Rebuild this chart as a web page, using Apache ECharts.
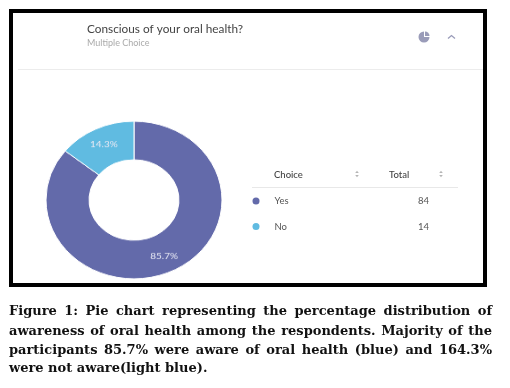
<!DOCTYPE html>
<html><head><meta charset="utf-8">
<style>
html,body{margin:0;padding:0;background:#fff;overflow:hidden}
#main{position:absolute;left:0;top:0;width:510px;height:388px}
#pie{position:absolute;left:34px;top:99.5px;width:200px;height:200px;transform:scale(1,0.895);transform-origin:50% 50%}
</style>
<script src="https://cdn.jsdelivr.net/npm/echarts@6/dist/echarts.min.js"></script>
</head><body>
<div id="main"></div><div id="pie"></div>
<script>
const questionTitle = 'Conscious of your oral health?';
const questionType = 'Multiple Choice';
const choices = ['Yes', 'No'];
const totals = [84, 14];
const sliceColors = ['#636aaa', '#60bbe1'];
const tableHeads = ['Choice', 'Total'];
const captionLines = [
  'Figure 1: Pie chart representing the percentage distribution of',
  'awareness of oral health among the respondents. Majority of the',
  'participants 85.7% were aware of oral health (blue) and 164.3%',
  'were not aware(light blue).'
];

const pie = echarts.init(document.getElementById('pie'), null, {renderer:'canvas'});
pie.setOption({
  animation:false,
  series:[{
    type:'pie', center:[100,100], radius:[45,88], startAngle:90, clockwise:true,
    data:choices.map((c,i)=>({name:c,value:totals[i],itemStyle:{color:sliceColors[i]}})),
    itemStyle:{borderColor:'#fff',borderWidth:1},
    label:{position:'inside',formatter:p=>p.percent.toFixed(1)+'%',color:'#e8e9f4',fontFamily:'Lato',fontSize:10},
    labelLine:{show:false}, percentPrecision:1
  }]
});

const capFont = 'bold 13px "DejaVu Serif"';
const measure = document.createElement('canvas').getContext('2d');
measure.font = capFont;
const capEls = [];
const capLeft = 9, capRight = 492, capTops = [305.5, 325, 344, 362.5];
captionLines.forEach((line,li)=>{
  const words = line.split(' ');
  const sum = words.reduce((a,w)=>a+measure.measureText(w).width,0);
  const last = li===captionLines.length-1;
  const gap = last ? measure.measureText(' ').width : (capRight-capLeft-sum)/(words.length-1);
  let x = capLeft;
  words.forEach(w=>{
    capEls.push({type:'text',x:x,y:capTops[li],style:{text:w,font:capFont,fill:'#111'}});
    x += measure.measureText(w).width+gap;
  });
});

const uiFont = (s)=>s+'px Lato';
const sortIcon = (x,y)=>[
  {type:'polygon',shape:{points:[[x-1.8,y-1],[x+1.8,y-1],[x,y-3.2]]},style:{fill:'#b5b5b5'}},
  {type:'polygon',shape:{points:[[x-1.8,y+1],[x+1.8,y+1],[x,y+3.2]]},style:{fill:'#b5b5b5'}}
];
const graphic = [
  {type:'rect',shape:{x:11,y:11,width:474,height:274},style:{fill:'#fff',stroke:'#000',lineWidth:4}},
  {type:'text',x:87,y:23,style:{text:questionTitle,font:'11.8px Lato',fill:'#444'}},
  {type:'text',x:87,y:39,style:{text:questionType,font:uiFont(9),fill:'#aaa'}},
  {type:'line',shape:{x1:18,y1:69.5,x2:483,y2:69.5},style:{stroke:'#ececec',lineWidth:1}},
  {type:'sector',shape:{cx:424,cy:37,r:5.5,startAngle:0,endAngle:Math.PI*1.5},style:{fill:'#9a9cb9'}},
  {type:'sector',shape:{cx:425,cy:36,r:4.5,startAngle:Math.PI*1.5,endAngle:Math.PI*2},style:{fill:'#9a9cb9'}},
  {type:'polyline',shape:{points:[[448,38.5],[451.5,35.5],[455,38.5]]},style:{stroke:'#9a9cb9',fill:null,lineWidth:1.3}},
  {type:'text',x:274,y:169.5,style:{text:tableHeads[0],font:'500 '+uiFont(9.5),fill:'#444'}},
  {type:'text',x:389,y:169.5,style:{text:tableHeads[1],font:'500 '+uiFont(9.5),fill:'#444'}},
  ...sortIcon(357,174),
  ...sortIcon(441,174),
  {type:'line',shape:{x1:252,y1:187.5,x2:458,y2:187.5},style:{stroke:'#e8e8e8',lineWidth:1}},
  ...capEls
];
choices.forEach((c,i)=>{
  const y = 201+i*25.5;
  graphic.push({type:'circle',shape:{cx:256,cy:y,r:3.5},style:{fill:sliceColors[i]}});
  graphic.push({type:'text',x:274.5,y:y-5,style:{text:c,font:uiFont(9.5),fill:'#555'}});
  graphic.push({type:'text',x:429,y:y-5,style:{text:String(totals[i]),font:uiFont(9.5),fill:'#555',align:'right'}});
});
const main = echarts.init(document.getElementById('main'), null, {renderer:'canvas'});
main.setOption({animation:false,graphic:{elements:graphic}});
</script>
</body></html>
